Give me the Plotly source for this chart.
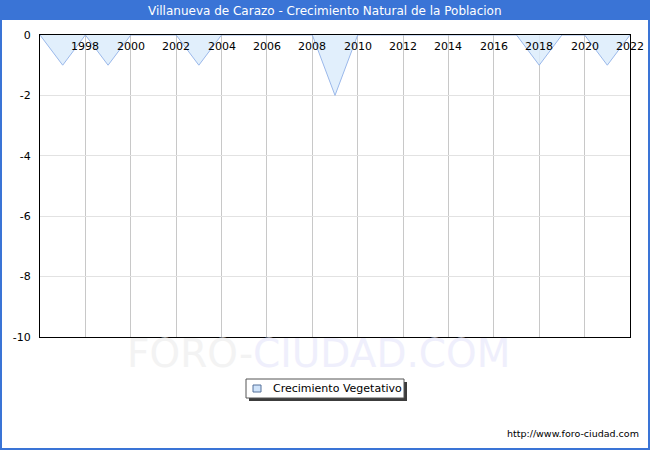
''' crecimiento natural chart '''

import plotly.graph_objects as go

years = list(range(1996, 2023))
crecimiento = [0, -1, 0, -1, 0, 0, 0, -1, 0, 0, 0, 0, 0, -2, 0, 0,
               0, 0, 0, 0, 0, 0, -1, 0, 0, -1, 0]
x_ticks = list(range(1998, 2023, 2))
y_ticks = [0, -2, -4, -6, -8, -10]

title_text = 'Villanueva de Carazo - Crecimiento Natural de la Poblacion'
serie_name = 'Crecimiento Vegetativo'

W, H = 650, 450
L, R, T, B = 40, 20, 35, 113
pw = W - L - R
ph = H - T - B

def px(x):
    return (x - L) / pw

def py(y):
    return (H - B - y) / ph

fig = go.Figure()
fig.add_trace(go.Scatter(x = years,
                         y = crecimiento,
                         mode = 'lines',
                         name = serie_name,
                         fill = 'tozeroy',
                         fillcolor = 'rgba(220,236,252,0.85)',
                         line = dict(color = '#9ab8ea', width = 1),
                         showlegend = False,
                         hoverinfo = 'x+y'))

def rect(x0, y0, x1, y1, **kw):
    return dict(type = 'rect', xref = 'paper', yref = 'paper',
                x0 = px(x0), x1 = px(x1), y0 = py(y1), y1 = py(y0), **kw)

shapes = [
    # outer frame
    rect(1, 1, W - 1, H - 1, line = dict(color = '#3a74d6', width = 2), layer = 'below'),
    # title band
    rect(0, 0, W, 20, fillcolor = '#3a74d6', line = dict(width = 0), layer = 'below'),
    # legend box, shadow first
    rect(249, 382, 407, 401, fillcolor = '#3c3c3c', line = dict(width = 0)),
    rect(246, 379, 404, 398, fillcolor = 'white', line = dict(color = '#555555', width = 1)),
    rect(253, 385, 261, 392, fillcolor = '#cfe3fa', line = dict(color = '#55709a', width = 1)),
]

annotations = [
    dict(text = title_text, xref = 'paper', yref = 'paper',
         x = px(W / 2), y = py(11), showarrow = False,
         font = dict(family = 'DejaVu Sans', size = 12, color = 'white'),
         xanchor = 'center', yanchor = 'middle'),
    dict(text = '<span style="color:#f3f3f3">FORO-</span>'
                '<span style="color:#efeffc">CIUDAD.COM</span>',
         xref = 'paper', yref = 'paper',
         x = px(318), y = py(353), showarrow = False,
         font = dict(family = 'DejaVu Sans', size = 39, color = '#efeffc'),
         xanchor = 'center', yanchor = 'middle'),
    dict(text = serie_name, xref = 'paper', yref = 'paper',
         x = px(271), y = py(388.5), showarrow = False,
         font = dict(family = 'DejaVu Sans', size = 11, color = 'black'),
         xanchor = 'left', yanchor = 'middle'),
    dict(text = 'http://www.foro-ciudad.com', xref = 'paper', yref = 'paper',
         x = px(641), y = py(433), showarrow = False,
         font = dict(family = 'DejaVu Sans', size = 9.5, color = 'black'),
         xanchor = 'right', yanchor = 'middle'),
]
# x tick labels sit just under the top edge, inside the plot
for yr in x_ticks:
    annotations.append(dict(text = str(yr), xref = 'x', yref = 'paper',
                            x = yr, y = py(47), showarrow = False,
                            font = dict(family = 'DejaVu Sans', size = 11, color = 'black'),
                            xanchor = 'center', yanchor = 'middle'))

fig.update_layout(width = W, height = H,
                  margin = dict(l = L, r = R, t = T, b = B),
                  paper_bgcolor = 'white',
                  plot_bgcolor = 'white',
                  font = dict(family = 'DejaVu Sans', size = 11, color = 'black'),
                  shapes = shapes,
                  annotations = annotations,
                  showlegend = False)

fig.update_xaxes(range = [1996, 2022],
                 side = 'top',
                 tickvals = x_ticks,
                 showticklabels = False,
                 ticks = '',
                 automargin = False,
                 showgrid = True, gridcolor = '#c8c8c8', gridwidth = 1,
                 zeroline = False,
                 showline = True, linecolor = 'black', linewidth = 1,
                 mirror = True)
fig.update_yaxes(range = [-10, 0],
                 tickvals = y_ticks,
                 ticktext = [str(v) for v in y_ticks],
                 ticks = '',
                 ticklabelstandoff = 6,
                 automargin = False,
                 showgrid = True, gridcolor = '#e2e2e2', gridwidth = 1,
                 zeroline = False,
                 showline = True, linecolor = 'black', linewidth = 1,
                 mirror = True,
                 tickfont = dict(size = 11))

# drop the default page margin so the chart sits at the window corner
fig.write_html("out.html", config = {'displayModeBar': False},
               post_script = "document.body.style.margin = '0';")
